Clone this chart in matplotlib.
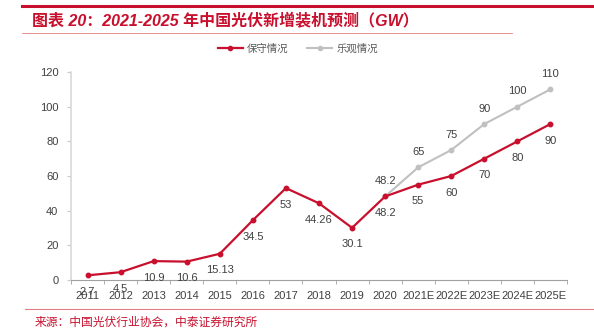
import numpy as np
import matplotlib
matplotlib.use('Agg')
from matplotlib import pyplot as plt
from matplotlib.lines import Line2D

years = ['2011', '2012', '2013', '2014', '2015', '2016', '2017', '2018',
         '2019', '2020', '2021E', '2022E', '2023E', '2024E', '2025E']
conservative = [2.7, 4.5, 10.9, 10.6, 15.13, 34.5, 53, 44.26, 30.1, 48.2,
                55, 60, 70, 80, 90]
optimistic_years = ['2020', '2021E', '2022E', '2023E', '2024E', '2025E']
optimistic = [48.2, 65, 75, 90, 100, 110]
yticks = [0, 20, 40, 60, 80, 100, 120]

RED = '#C8102E'
GRAY = '#C0C0C0'
TXT = '#404040'
CJK = ['Noto Sans CJK SC', 'DejaVu Sans']
LAT = ['Liberation Sans', 'Noto Sans CJK SC']

plt.rcParams['font.family'] = LAT

fig = plt.figure(figsize=(5.94, 3.33), dpi=100)
ax = fig.add_axes([71/594, 1 - 280/333, 496/594, 208/333])

x = np.arange(len(years))
xo = np.array([years.index(y) for y in optimistic_years])

ax.plot(xo, optimistic, color=GRAY, lw=1.5, marker='o', ms=3.2, zorder=2)
ax.plot(x, conservative, color=RED, lw=1.6, marker='o', ms=3.2, zorder=3)

for xi, v in zip(x, conservative):
    ax.annotate(f'{v:g}', (xi, v), xytext=(0, -12), textcoords='offset points',
                ha='center', va='center', fontsize=8, color=TXT)
for xi, v in zip(xo, optimistic):
    ax.annotate(f'{v:g}', (xi, v), xytext=(0, 11), textcoords='offset points',
                ha='center', va='center', fontsize=8, color=TXT)

ax.set_xlim(-0.5, len(years) - 0.5)
ax.set_ylim(0, 120)
ax.set_yticks(yticks)
ax.set_xticks(x)
ax.set_xticklabels(years)
ax.set_xticks(np.arange(-0.5, len(years)), minor=True)
ax.tick_params(axis='x', which='major', length=0, pad=8, labelsize=8, labelcolor=TXT)
ax.tick_params(axis='x', which='minor', length=3, color='#A0A0A0', direction='out')
ax.tick_params(axis='y', length=3, color='#C8C8C8', labelsize=8, labelcolor=TXT, pad=6)

for s in ['top', 'right']:
    ax.spines[s].set_visible(False)
ax.spines['left'].set_color('#D9D9D9')
ax.spines['left'].set_linewidth(1.2)
ax.spines['bottom'].set_color('#A0A0A0')
ax.spines['bottom'].set_linewidth(0.8)

# legend
handles = [Line2D([], [], color=RED, lw=1.6, marker='o', ms=3),
           Line2D([], [], color=GRAY, lw=1.5, marker='o', ms=3)]
fig.legend(handles, ['保守情况', '乐观情况'], loc='center', bbox_to_anchor=(298/594, 1 - 49/333),
           ncol=2, frameon=False, prop={'family': CJK, 'size': 7.5}, labelcolor='#595959',
           handlelength=2.4, handletextpad=0.4, columnspacing=1.8)

# title block
fig.add_artist(Line2D([22/594, 1], [1 - 5.5/333] * 2, color=RED, lw=2.2))
fig.text(32/594, 1 - 20/333, '图表 20：2021-2025 年中国光伏新增装机预测（GW）',
         family=LAT, weight='bold', style='italic', fontsize=11.5, color=RED,
         ha='left', va='center')
fig.add_artist(Line2D([22/594, 512/594], [1 - 32.5/333] * 2, color='#E08080', lw=0.6))

# source
fig.add_artist(Line2D([25/594, 1], [1 - 309/333] * 2, color='#E08080', lw=0.8))
fig.text(35/594, 1 - 322/333, '来源：中国光伏行业协会，中泰证券研究所',
         family=CJK, fontsize=8.5, color=RED, ha='left', va='center')

fig.savefig('out.png', dpi=100)
